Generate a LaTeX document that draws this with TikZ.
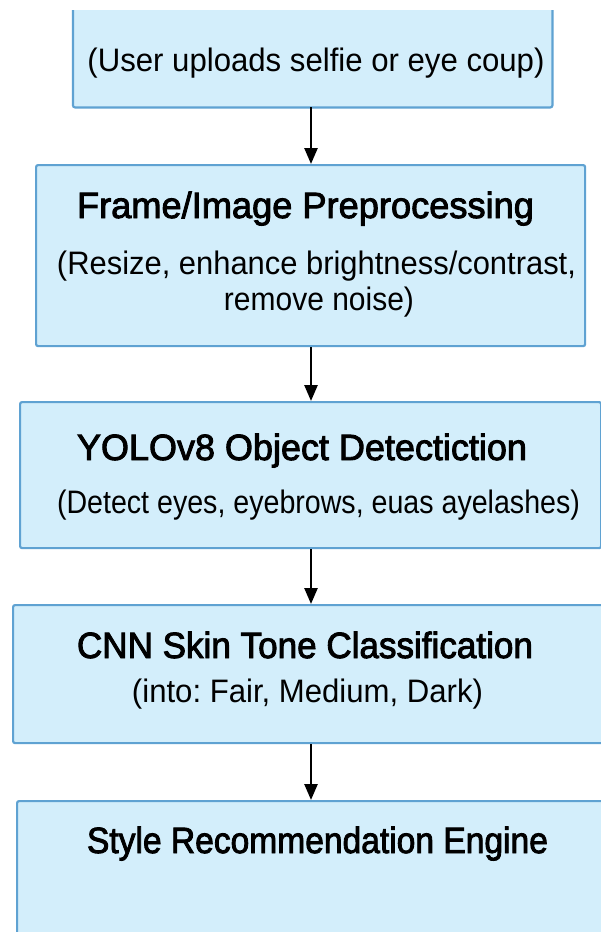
\documentclass[tikz,border=0pt]{standalone}
\usepackage{fontspec}
\usepackage{graphicx}
\setmainfont{Liberation Sans}
\newfontfamily\titlefont{Liberation Sans}[FakeBold=2.5]
\usetikzlibrary{arrows.meta}
\definecolor{boxfill}{HTML}{D3EEFB}
\definecolor{boxline}{HTML}{5FA2D2}
\newcommand{\fitw}[2]{\resizebox{#1}{\height}{#2}}
\frenchspacing
\tikzset{
  flowbox/.style={fill=boxfill, draw=boxline, line width=2.2pt, rounded corners=2pt, anchor=north west, inner sep=0pt},
  sidebox/.style={fill=boxfill, draw=none, anchor=north west, inner sep=0pt},
  ttl/.style={anchor=base, inner sep=0pt, font=\titlefont\fontsize{36.5}{40}\selectfont},
  subt/.style={anchor=base, inner sep=0pt, font=\fontsize{32.5}{36}\selectfont},
  flowarrow/.style={draw=black, line width=2.6pt, -{Triangle[width=13pt,length=16pt]}}
}
\begin{document}
\begin{tikzpicture}[x=1pt,y=-1pt]
\useasboundingbox (0,0) rectangle (601,932);
\fill[white] (0,0) rectangle (601,932);
\clip (0,0) rectangle (601,932);
% boxes
\node[sidebox, minimum width=479pt, minimum height=97pt] (b1) at (73,10) {};
\draw[boxline, line width=2.2pt, rounded corners=2pt] (b1.north west) |- (b1.south east) -- (b1.north east);
\node[flowbox, minimum width=549pt, minimum height=181pt] (b2) at (35,164) {};
\node[flowbox, minimum width=581pt, minimum height=146pt] (b3) at (19,401) {};
\node[flowbox, minimum width=620pt, minimum height=138pt] (b4) at (12,604) {};
\node[flowbox, minimum width=620pt, minimum height=160pt] (b5) at (16,800) {};
% texts
\node[subt] (t1) at (316,71) {\fitw{457pt}{(User uploads selfie or eye coup)}};
\node[ttl] (t2) at (305.5,218) {\fitw{457pt}{Frame/Image Preprocessing}};
\node[subt] (t2a) at (316.5,274) {\fitw{519pt}{(Resize, enhance brightness/contrast,}};
\node[subt] (t2b) at (319,310) {\fitw{190pt}{remove noise)}};
\node[ttl] (t3) at (302,460) {\fitw{450pt}{YOLOv8 Object Detectiction}};
\node[subt] (t3a) at (318.5,513) {\fitw{523pt}{(Detect eyes, eyebrows, euas ayelashes)}};
\node[ttl] (t4) at (305,658) {\fitw{456pt}{CNN Skin Tone Classification}};
\node[subt] (t4a) at (307.5,702) {\fitw{351pt}{(into: Fair, Medium, Dark)}};
\node[ttl] (t5) at (317.5,853) {\fitw{461pt}{Style Recommendation Engine}};
% arrows
\coordinate (ax) at (311,0);
\draw[flowarrow] (b1.south -| ax) -- (b2.north -| ax);
\draw[flowarrow] (b2.south -| ax) -- (b3.north -| ax);
\draw[flowarrow] (b3.south -| ax) -- (b4.north -| ax);
\draw[flowarrow] (b4.south -| ax) -- (b5.north -| ax);
\end{tikzpicture}
\end{document}
